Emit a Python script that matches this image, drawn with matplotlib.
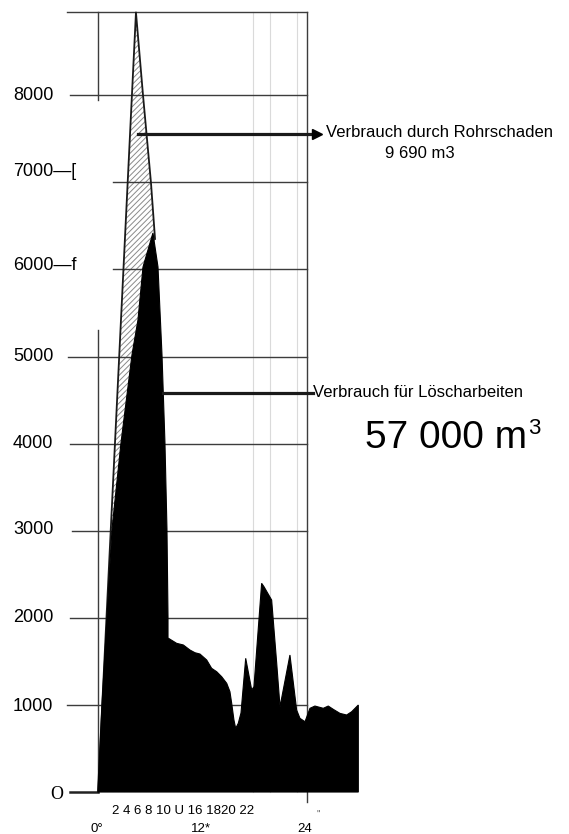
import numpy as np
import matplotlib
matplotlib.use('Agg')
import matplotlib.pyplot as plt

plt.rcParams['font.family'] = ['Liberation Sans', 'DejaVu Sans']
plt.rcParams['hatch.linewidth'] = 0.7

# Wasserverbrauch (m3/h) ueber die Zeit (Stunden ab 0 Uhr)
hours = [0.0, 0.46, 1.03, 1.61, 2.64, 3.90, 4.59, 5.17, 6.31, 6.89, 7.35, 7.69, 7.92, 8.04, 8.04,
         9.03, 9.80, 10.56, 11.14, 11.71, 12.48, 13.05, 13.63, 14.20, 14.78, 15.15,
         15.35, 15.61, 15.81, 16.11, 16.42, 16.96, 17.65, 17.91, 18.79, 19.06, 19.94,
         20.52, 20.90, 22.04, 22.81, 23.19, 23.77, 24.34, 24.91, 25.87, 26.44, 27.02,
         27.78, 28.55, 29.13, 29.89, 29.89]
verbrauch = [0, 1000, 2000, 3020, 4007, 5017, 5419, 6028, 6418, 6028, 5017, 4007, 3020, 2009, 1768,
             1707, 1688, 1630, 1599, 1584, 1516, 1420, 1381, 1324, 1248, 1152,
             1019, 827, 731, 789, 907, 1535, 1171, 1209, 2396, 2357, 2204,
             1478, 979, 1573, 941, 846, 807, 961, 987, 961, 987, 949,
             903, 884, 922, 999, 0]

# Verbrauch durch Rohrschaden (schraffierte Spitze)
rohr_hours = [0.0, 4.36, 5.17, 6.08, 6.55]
rohr_verbrauch = [0, 8950, 8000, 7000, 6350]

grid_values = [1000, 2000, 3000, 4000, 5000, 6000, 7000, 8000, 8950]
grid_start = [-3.6, -3.2, -3.0, -3.2, -3.4, 1.72, 1.72, -3.2, -3.6]

y_labels = ['8000', '7000\u2014[', '6000\u2014f', '5000', '4000', '3000', '2000', '1000']
y_label_pos = [8000, 7120, 6050, 5000, 4000, 3010, 2000, 980]

faint_hours = [17.8, 19.75, 22.85]


def main():
    fig = plt.figure(figsize=(5.69, 8.34), dpi=100)
    ax = fig.add_axes([0, 0, 1, 1])
    ax.set_xlim(-11.25, 54.08)
    ax.set_ylim(-482, 9093)
    ax.axis('off')

    # faint vertical lines of the scan
    for h in faint_hours:
        ax.plot([h, h], [0, 8950], color='#dadada', lw=0.8, zorder=1)

    # hatched area (pipe damage)
    ax.fill(rohr_hours + [6.55], rohr_verbrauch + [0], facecolor='white',
            edgecolor='#8a8a8a', hatch='//////', linewidth=0, zorder=1)

    # grid
    for v, x0 in zip(grid_values, grid_start):
        ax.plot([x0, 24.0], [v, v], color='#3c3c3c', lw=1.0, zorder=2)
    ax.plot([0.05, 0.05], [8950, 7950], color='#3c3c3c', lw=1.0, zorder=2)
    ax.plot([0.05, 0.05], [5300, 0], color='#3c3c3c', lw=1.0, zorder=2)
    ax.plot([24.0, 24.0], [8950, -115], color='#3c3c3c', lw=1.0, zorder=2)
    ax.plot([-3.2, 0.05], [0, 0], color='#222222', lw=1.8, zorder=2)

    ax.plot(rohr_hours, rohr_verbrauch, color='#1a1a1a', lw=1.3, zorder=3)

    # total consumption
    ax.fill(hours, verbrauch, color='black', lw=0.8, zorder=4)

    # annotation lines
    ax.plot([4.59, 24.68], [7554, 7554], color='#1a1a1a', lw=2.3, zorder=5)
    ax.plot([25.2], [7554], marker='>', color='black', markersize=7, zorder=5)
    ax.text(26.2, 7575, 'Verbrauch durch Rohrschaden', fontsize=12, va='center', ha='left')
    ax.text(36.97, 7336, '9 690 m3', fontsize=12, va='center', ha='center')

    ax.plot([7.46, 24.68], [4581, 4581], color='#1a1a1a', lw=2.3, zorder=5)
    ax.text(24.68, 4592, 'Verbrauch f\u00fcr L\u00f6scharbeiten', fontsize=12,
            va='center', ha='left')
    ax.text(30.65, 4064, '57 000 m', fontsize=28, va='center', ha='left')
    ax.text(50.1, 4170, '3', fontsize=16, va='center', ha='center')

    # y labels
    for lab, v in zip(y_labels, y_label_pos):
        ax.text(-9.76, v, lab, fontsize=13, va='center', ha='left')
    ax.text(-4.7, -34, 'O', fontsize=13, va='center', ha='center',
            family='Liberation Serif')

    # x labels
    ax.text(1.61, -220, '2 4 6 8 10 U 16 1820 22', fontsize=9.5, va='center', ha='left')
    ax.text(-0.1, -420, '0\u00b0', fontsize=9.5, va='center', ha='center')
    ax.text(11.83, -420, '12*', fontsize=9.5, va='center', ha='center')
    ax.text(23.77, -420, '24', fontsize=9.5, va='center', ha='center')
    ax.text(25.3, -260, '"', fontsize=7, va='center', ha='center', color='#555555')

    fig.savefig('out.png', dpi=100)


if __name__ == '__main__':
    main()
